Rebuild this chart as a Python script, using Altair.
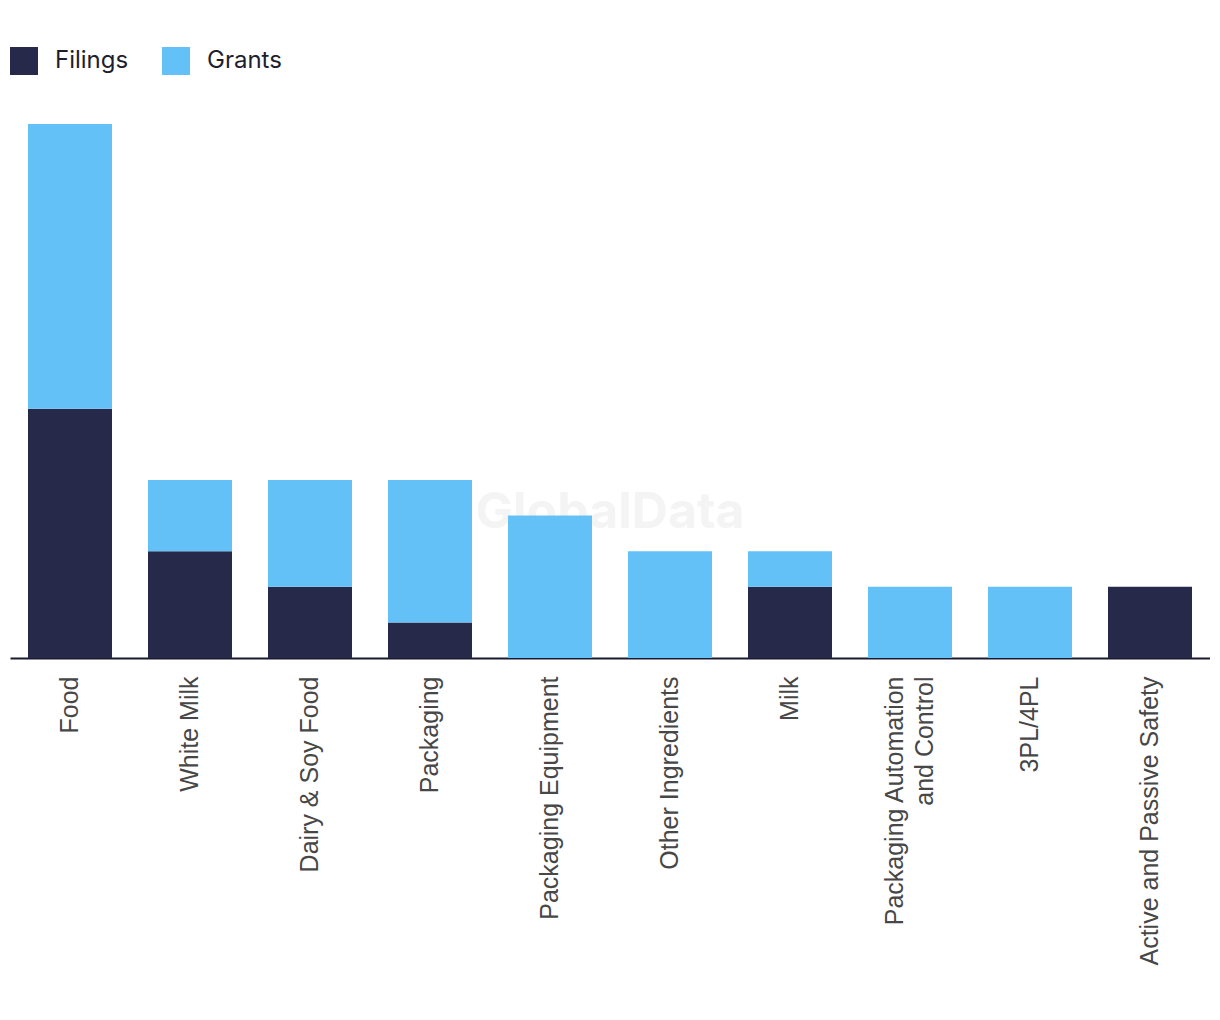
import altair as alt
import pandas as pd

categories = ["Food", "White Milk", "Dairy & Soy Food", "Packaging", "Packaging Equipment",
              "Other Ingredients", "Milk", "Packaging Automation and Control", "3PL/4PL",
              "Active and Passive Safety"]
filings = [7, 3, 2, 1, 0, 0, 2, 0, 0, 2]
grants = [8, 2, 3, 4, 4, 3, 1, 2, 2, 0]
series = ["Filings", "Grants"]
colors = ["#27294B", "#63C1F8"]

rows = []
for c, f, g in zip(categories, filings, grants):
    rows.append({"category": c, "series": "Filings", "value": f, "order": 0})
    rows.append({"category": c, "series": "Grants", "value": g, "order": 1})
df = pd.DataFrame(rows)

label_expr = ("datum.label == 'Packaging Automation and Control' ? "
              "['Packaging Automation', 'and Control'] : datum.label")

watermark = alt.Chart(pd.DataFrame({"t": ["GlobalData"]})).mark_text(
    font="Inter", fontSize=50, fontWeight="bold", color="#F4F4F4",
    align="center", baseline="middle"
).encode(text="t:N", x=alt.value(600), y=alt.value(389))

bars = alt.Chart(df).mark_bar().encode(
    x=alt.X("category:N", sort=categories, title=None,
            scale=alt.Scale(paddingInner=0.3, paddingOuter=0.15),
            axis=alt.Axis(labelAngle=270, labelFont="Liberation Sans", labelFontSize=25,
                          labelColor="#474747", labelPadding=18, ticks=False,
                          domainColor="#1B1B2F", domainWidth=2, labelLimit=0,
                          labelLineHeight=30, labelExpr=label_expr,
                          labelOffset={"condition": {"test": "datum.value == 'Packaging Automation and Control'",
                                                     "value": -15}, "value": 0})),
    y=alt.Y("value:Q", stack="zero", axis=None,
            scale=alt.Scale(domain=[0, 15], nice=False)),
    color=alt.Color("series:N", sort=series,
                    scale=alt.Scale(domain=series, range=colors),
                    legend=alt.Legend(title=None, orient="top", direction="horizontal",
                                      symbolType="square", symbolSize=784,
                                      symbolStrokeWidth=0, labelFont="Inter",
                                      labelFontSize=24, labelColor="#1E1E2E",
                                      labelOffset=17, columnPadding=33, offset=49)),
    order=alt.Order("order:Q", sort="ascending"),
)

chart = alt.layer(watermark, bars).properties(
    width=1200, height=534,
    padding={"left": 2, "top": 39, "right": 0, "bottom": 5},
).configure_view(stroke=None)

chart.save("out.html", embed_options={"renderer": "svg", "actions": False})
